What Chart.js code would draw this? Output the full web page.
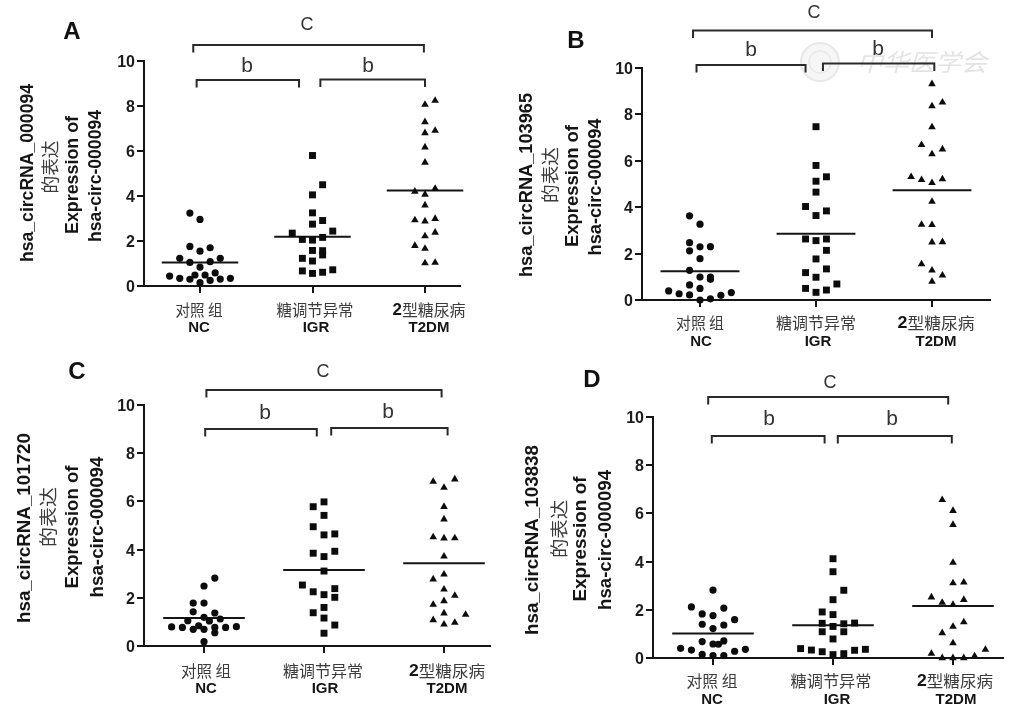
<!DOCTYPE html>
<html><head><meta charset="utf-8">
<script src="https://cdn.jsdelivr.net/npm/chart.js@4/dist/chart.umd.min.js"></script>
<style>
html,body{margin:0;padding:0;background:#fff;width:1024px;height:715px;overflow:hidden}
canvas{position:absolute;left:0;top:0;filter:blur(0.35px)}
</style></head><body>
<canvas id="pA"></canvas><canvas id="pB"></canvas><canvas id="pC"></canvas><canvas id="pD"></canvas>
<script>
// ---- data (cols = beeswarm column of each point) ----
const groups=['对照 组','糖调节异常','2型糖尿病'];
const groupsEn=['NC','IGR','T2DM'];
const yTicks=[0,2,4,6,8,10];

const A_NC=[3.24,2.96,1.76,1.55,1.70,1.23,1.23,1.05,1.08,0.84,0.44,0.34,0.30,0.49,0.49,0.58,0.25,0.31,0.34,0.15];
const A_NC_cols=[-1,0,-1,0,1,-2,2,-1,1,0,-3,-2,-1,-0.5,0.5,1.5,1,2,3,0];
const A_IGR=[5.80,4.50,4.05,3.25,2.91,2.75,2.35,2.44,2.07,2.04,2.16,1.58,1.57,1.38,1.23,1.11,0.67,0.56,0.61,0.72];
const A_IGR_cols=[0,1,0,0,1,0,-2,2,-1,0,1,0,1,1,-1,0,-1,0,1,2];
const A_T2DM=[8.24,8.06,7.29,6.91,6.80,6.17,5.49,4.33,4.20,4.07,3.59,2.93,2.88,2.99,2.38,2.22,1.79,1.66,1.02,1.04];
const A_T2DM_cols=[1,0,0,1,0,0,0,1,-1,0,0,-1,0,1,1,0,-1,0,0,1];
const A_means=[1.04,2.19,4.25];

const B_NC=[3.63,3.27,2.47,2.12,2.29,2.30,1.78,1.28,0.99,0.99,0.89,0.65,0.50,0.39,0.27,0.22,0.20,0.32,0.05,0.0];
const B_NC_cols=[-1,0,-1,-1,0,1,0,-1,0,1,1,-1,0,-3,-2,-1,2,3,1,0];
const B_IGR=[7.47,5.80,5.31,5.12,4.65,4.03,3.84,3.64,2.63,2.56,2.63,2.14,1.77,1.34,1.18,0.98,0.69,0.50,0.43,0.33];
const B_IGR_cols=[0,0,1,0,0,-1,1,0,-1,0,1,1,0,1,-1,0,2,-1,1,0];
const B_T2DM=[9.31,8.36,8.52,7.45,6.69,6.50,6.29,5.31,5.18,5.05,5.21,4.24,3.25,3.24,2.49,2.50,1.55,1.28,1.06,0.79];
const B_T2DM_cols=[0,0,1,0,-1,1,0,-2,-1,0,1,0,-1,0,0,1,-1,0,1,0];
const B_means=[1.24,2.86,4.73];

const C_NC=[2.82,2.49,1.78,1.78,1.42,1.37,1.05,1.19,1.04,1.12,0.79,0.77,0.69,0.84,0.69,0.77,0.55,0.77,0.80,0.18];
const C_NC_cols=[1,0,-1,0,-1,1,-1.5,0,0.5,1.5,-3,-2,-1,-0.5,0,1,1,2,3,0];
const C_IGR=[5.98,5.78,5.42,4.95,4.61,4.65,3.93,3.85,3.71,3.11,2.53,2.38,2.25,2.13,2.02,1.60,1.38,1.16,0.87,0.53];
const C_IGR_cols=[0,-1,0,-1,0,1,1,-1,0,0,-2,1,-1,0,1,0,-1,0,1,0];
const C_T2DM=[6.82,6.92,6.57,5.78,5.26,4.52,4.47,4.48,3.72,2.97,2.77,2.35,2.09,1.87,1.72,1.36,1.30,1.08,0.90,0.97];
const C_T2DM_cols=[-1,1,0,0,0,-1,0,1,0,0,-1,0,1,0,-1,0,2,-1,0,1];
const C_means=[1.16,3.15,3.43];

const D_NC=[2.82,2.12,2.07,1.83,1.76,1.59,1.40,1.37,1.22,0.68,0.71,0.58,0.57,0.40,0.33,0.36,0.28,0.15,0.10,0.10];
const D_NC_cols=[0,-2,1,-1,0,2,-1,1,0,-1,1,0,0.5,-3,-2,3,2,-1,0,1];
const D_IGR=[4.12,3.58,2.81,2.42,1.91,1.80,1.44,1.42,1.45,1.31,1.09,1.09,0.79,0.39,0.33,0.26,0.32,0.36,0.14,0.18];
const D_IGR_cols=[0,0,1,0,-1,0,-1,1,2,0,-1,1,0,-3,-2,-1,2,3,0,1];
const D_T2DM=[6.56,6.11,5.53,3.96,3.11,3.14,2.52,2.42,2.30,2.21,1.49,1.30,1.04,0.62,0.18,0.35,0.08,0.0,0.0,0.0];
const D_T2DM_cols=[-1,0,0,0,0,1,-2,1,-1,0,1,0,-1,0,-2,3,2,-1,0,1];
const D_means=[1.02,1.36,2.16];

// significance brackets: [from group pos, to group pos, level]
const A_brackets=[[0.94,2.99,10.71],[0.97,1.88,9.16],[2.07,3.00,9.18]];
const B_brackets=[[0.94,3.00,11.62],[0.97,1.91,10.13],[2.06,3.02,10.19]];
const C_brackets=[[1.02,2.98,10.62],[1.01,1.94,9.00],[2.06,3.03,9.05]];
const D_brackets=[[0.96,2.96,10.83],[0.99,1.93,9.21],[2.04,2.99,9.21]];

// ---- layout ----
const COL=0.09, HALF=0.34, INK='#151515', SOFT='#3c3c3c';
const SANS='"Liberation Sans",Arial,sans-serif', CJK='"Noto Sans CJK SC","Liberation Sans",sans-serif';
const panels=[
 {id:'pA',letter:'A',lx:72,ly:32,left:144,right:460,top:61,bottom:286,tick1:200,gap:112.5,
  vals:[A_NC,A_IGR,A_T2DM],cols:[A_NC_cols,A_IGR_cols,A_T2DM_cols],means:A_means,brackets:A_brackets,
  rna:'hsa_circRNA_000094',rot:[[28,173,178],[50,167,53],[73,175,118],[96,176,132]],
  cx:[199,315,429],zy:310,zw:[47,77,73],ex:[199,316,429],ey:328,
  marks:[['C',307,25],['b',247,66],['b',368,66]]},
 {id:'pB',letter:'B',lx:576,ly:41,left:642,right:990,top:68,bottom:300,tick1:700,gap:116,
  vals:[B_NC,B_IGR,B_T2DM],cols:[B_NC_cols,B_IGR_cols,B_T2DM_cols],means:B_means,brackets:B_brackets,
  rna:'hsa_circRNA_103965',rot:[[527,185,184],[550,175,56],[573,186,122],[596,187,137]],
  cx:[700,816,936],zy:323,zw:[48,80,77],ex:[701,818,936],ey:342,
  marks:[['C',814,13],['b',751,50],['b',878,49]]},
 {id:'pC',letter:'C',lx:77,ly:372,left:144,right:490,top:405,bottom:646,tick1:204,gap:120,
  vals:[C_NC,C_IGR,C_T2DM],cols:[C_NC_cols,C_IGR_cols,C_T2DM_cols],means:C_means,brackets:C_brackets,
  rna:'hsa_circRNA_101720',rot:[[25,528,190],[48,517,60],[73,527,123],[98,527,141]],
  cx:[206,323,447],zy:671,zw:[50,80,76],ex:[206,325,447],ey:689,
  marks:[['C',323,372],['b',265,413],['b',388,412]]},
 {id:'pD',letter:'D',lx:592,ly:380,left:653,right:1003,top:417,bottom:658,tick1:713,gap:120,
  vals:[D_NC,D_IGR,D_T2DM],cols:[D_NC_cols,D_IGR_cols,D_T2DM_cols],means:D_means,brackets:D_brackets,
  rna:'hsa_circRNA_103838',rot:[[533,540,190],[559,529,58],[581,539,125],[606,540,140]],
  cx:[712,831,955],zy:681,zw:[51,81,76],ex:[712,837,956],ey:700,
  marks:[['C',830,383],['b',769,419],['b',892,419]]}
];
const shapes=['circle','rect','triangle'], radii=[3.6,4.9,4.4];

function put(ctx,text,x,y,font,color,len,rot){
  ctx.save();ctx.translate(x,y);if(rot)ctx.rotate(rot);
  ctx.font=font;ctx.fillStyle=color;ctx.textAlign='center';ctx.textBaseline='middle';
  if(len)ctx.scale(len/ctx.measureText(text).width,1);
  ctx.fillText(text,0,0);ctx.restore();
}
function putMixed(ctx,text,x,y,size,len){
  // leading digit is set bold, the Chinese part in the regular face
  const bold='bold '+(size+1)+'px '+SANS, reg=size+'px '+CJK, d=text[0], rest=text.slice(1);
  ctx.save();ctx.textBaseline='middle';ctx.textAlign='left';
  ctx.font=bold;const w1=ctx.measureText(d).width;
  ctx.font=reg;const w2=ctx.measureText(rest).width;
  const k=len/(w1+w2);
  ctx.translate(x-len/2,y);ctx.scale(k,1);
  ctx.font=bold;ctx.fillStyle=INK;ctx.fillText(d,0,0);
  ctx.font=reg;ctx.fillStyle=SOFT;ctx.fillText(rest,w1,0);
  ctx.restore();
}

function makePanel(p){
  const datasets=[];
  p.vals.forEach((v,g)=>datasets.push({
    data:v.map((y,i)=>({x:g+1+p.cols[g][i]*COL,y})),
    showLine:false,pointStyle:shapes[g],pointRadius:radii[g],
    backgroundColor:'#0c0c0c',borderColor:'#0c0c0c',borderWidth:0,clip:false}));
  p.means.forEach((m,g)=>datasets.push({
    data:[{x:g+1-HALF,y:m},{x:g+1+HALF,y:m}],
    showLine:true,pointRadius:0,borderColor:INK,borderWidth:2,clip:false}));
  const drop=7.5/((p.bottom-p.top)/10);
  p.brackets.forEach(b=>datasets.push({
    data:[{x:b[0],y:b[2]-drop},{x:b[0],y:b[2]},{x:b[1],y:b[2]},{x:b[1],y:b[2]-drop}],
    showLine:true,pointRadius:0,borderColor:'#2a2a2a',borderWidth:2,tension:0,clip:false}));
  const W=60,H=40;
  const labels={id:'labels',
  beforeDraw(c){
    if(p.letter!=='B')return;
    const ctx=c.ctx;
    ctx.save();
    ctx.fillStyle='#f6f6f6';ctx.strokeStyle='#e8e8e8';ctx.lineWidth=2;
    ctx.beginPath();ctx.arc(820,62,19,0,Math.PI*2);ctx.fill();ctx.stroke();
    ctx.lineWidth=1.5;ctx.beginPath();ctx.arc(820,62,11,0,Math.PI*2);ctx.stroke();ctx.restore();
    put(ctx,'中华医学会',922,62,'italic 24px '+CJK,'#e4e4e4',130);
  },
  afterDraw(c){
    const ctx=c.ctx;
    put(ctx,p.letter,p.lx,p.ly,'bold 24px '+SANS,'#111');
    const q=-Math.PI/2, r=p.rot;
    put(ctx,p.rna,r[0][0],r[0][1],'bold 17.5px '+SANS,INK,r[0][2],q);
    put(ctx,'的表达',r[1][0],r[1][1],'18px '+CJK,SOFT,r[1][2],q);
    put(ctx,'Expression of',r[2][0],r[2][1],'bold 17.5px '+SANS,INK,r[2][2],q);
    put(ctx,'hsa-circ-000094',r[3][0],r[3][1],'bold 17.5px '+SANS,INK,r[3][2],q);
    p.cx.forEach((x,i)=>{
      if(i===2)putMixed(ctx,groups[i],x,p.zy,16,p.zw[i]);
      else put(ctx,groups[i],x,p.zy,'16px '+CJK,SOFT,p.zw[i]);
      put(ctx,groupsEn[i],p.ex[i],p.ey,'bold 15px '+SANS,INK);
    });
    p.marks.forEach(m=>put(ctx,m[0],m[1],m[2],(m[0]==='b'?'21px ':'18px ')+SANS,'#333'));
  }};
  return new Chart(document.getElementById(p.id),{
    type:'scatter',
    data:{datasets},
    plugins:[labels],
    options:{
      responsive:false,animation:false,devicePixelRatio:1,
      layout:{padding:{left:p.left-W,right:1024-p.right,top:p.top,bottom:715-p.bottom-H}},
      plugins:{legend:{display:false},tooltip:{enabled:false},title:{display:false}},
      scales:{
        x:{type:'linear',position:'bottom',
           min:1-(p.tick1-p.left)/p.gap,max:1+(p.right-p.tick1)/p.gap,
           afterBuildTicks(s){s.ticks=[{value:1},{value:2},{value:3}];},
           afterFit(s){s.height=H;},
           border:{display:true,color:INK,width:2},
           grid:{display:true,drawOnChartArea:false,drawTicks:true,tickLength:7,color:INK,lineWidth:2},
           ticks:{display:false}},
        y:{type:'linear',position:'left',min:0,max:10,
           afterBuildTicks(s){s.ticks=yTicks.map(value=>({value}));},
           afterFit(s){s.width=W;},
           border:{display:true,color:INK,width:2},
           grid:{display:true,drawOnChartArea:false,drawTicks:true,tickLength:7,color:INK,lineWidth:2},
           // the empty first line nudges the label down so it centres on its tick
           ticks:{color:'#1c1c1c',padding:2,font:{family:SANS,size:16,weight:'bold',lineHeight:0.2},
                  callback:v=>['',String(v)]}}
      }
    }
  });
}
panels.forEach(p=>{
  const cv=document.getElementById(p.id);cv.width=1024;cv.height=715;
  cv.style.width='1024px';cv.style.height='715px';
  makePanel(p);
});
</script></body></html>
